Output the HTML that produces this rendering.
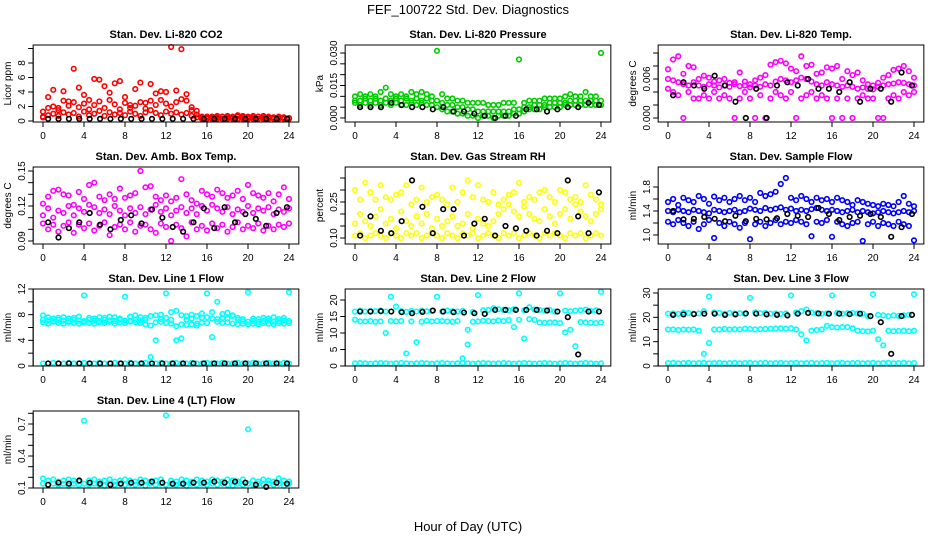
<!DOCTYPE html>
<html><head><meta charset="utf-8"><style>
body{margin:0;background:#fff}
svg{display:block;font-family:"Liberation Sans",sans-serif}
</style></head><body>
<svg id="c" width="936" height="540" viewBox="0 0 936 540">
<text x="468" y="14" text-anchor="middle" font-size="13">FEF_100722  Std. Dev. Diagnostics</text>
<text x="468" y="531" text-anchor="middle" font-size="13">Hour of Day (UTC)</text>
</svg>
<script>
const xTicks=[0,4,8,12,16,20,24];
const co2Hi=[0.6,3.3,4.3,1.8,4.1,2.7,7.2,4.6,3.6,2.9,5.8,5.7,4.8,3.9,5.2,5.5,3.3,2.2,4.4,5.3,2.5,5.1,3.8,4.1,4.0,10.2,4.2,9.9,3.7,1.9,1.4,0.6,0.6,0.6,0.7,0.6,0.7,0.6,0.8,0.7,0.6,0.7,0.6,0.7,0.6,0.5,0.6,0.5,0.4];
const co2Mid=[1.3,1.8,2.0,1.5,2.8,2.1,2.6,1.9,2.4,1.6,2.2,2.7,1.8,2.9,2.3,1.6,2.5,1.8,2.1,2.6,1.7,2.8,2.2,2.9,2.4,2.0,2.6,3.0,2.8,1.5,0.9,0.5,0.5,0.5,0.5,0.6,0.5,0.5,0.6,0.5,0.5,0.5,0.6,0.5,0.5,0.5,0.4,0.5,0.4];
const co2Lo=[0.5,0.8,1.0,0.7,1.2,0.9,1.1,0.6,1.3,0.8,1.0,1.4,0.7,1.2,0.9,1.1,0.8,1.3,1.0,0.7,1.2,1.5,1.1,0.8,1.3,1.0,1.2,0.9,1.1,0.7,0.5,0.3,0.3,0.3,0.3,0.3,0.3,0.3,0.3,0.3,0.3,0.3,0.3,0.3,0.3,0.3,0.3,0.3,0.3];
const co2Blk=[0.3,0.3,0.3,0.3,0.3,0.3,0.3,0.3,0.3,0.3,0.3,0.3,0.3,0.3,0.3,0.3,0.3,0.3,0.3,0.3,0.3,0.3,0.3,0.3];
const presHi=[0.010,0.011,0.010,0.011,0.010,0.012,0.014,0.011,0.010,0.011,0.010,0.012,0.011,0.012,0.011,0.010,0.031,0.011,0.009,0.009,0.008,0.008,0.007,0.007,0.007,0.007,0.006,0.006,0.006,0.007,0.007,0.007,0.027,0.007,0.008,0.008,0.008,0.009,0.009,0.009,0.009,0.010,0.011,0.010,0.010,0.012,0.010,0.010,0.030];
const presMid=[0.008,0.008,0.009,0.008,0.009,0.008,0.009,0.008,0.009,0.008,0.009,0.008,0.009,0.008,0.009,0.008,0.008,0.007,0.006,0.006,0.005,0.005,0.004,0.004,0.003,0.003,0.003,0.003,0.003,0.003,0.003,0.004,0.004,0.005,0.005,0.006,0.006,0.006,0.007,0.007,0.007,0.007,0.008,0.008,0.008,0.008,0.008,0.008,0.008];
const presLo=[0.007,0.006,0.007,0.006,0.007,0.006,0.007,0.006,0.007,0.006,0.006,0.007,0.006,0.007,0.006,0.006,0.005,0.004,0.003,0.003,0.002,0.002,0.001,0.001,0.000,0.001,0.001,0.000,0.001,0.001,0.001,0.002,0.002,0.003,0.004,0.004,0.004,0.005,0.005,0.005,0.005,0.006,0.006,0.006,0.006,0.006,0.006,0.006,0.006];
const presBlk=[0.005,0.005,0.005,0.007,0.006,0.005,0.005,0.004,0.005,0.003,0.003,0.002,0.001,0.0,0.001,0.001,0.004,0.004,0.003,0.004,0.005,0.005,0.007,0.006];
const tmpHi=[0.0075,0.0090,0.0095,0.0068,0.0080,0.0078,0.0060,0.0065,0.0062,0.0056,0.0058,0.0060,0.0054,0.0055,0.0070,0.0056,0.0052,0.0058,0.0062,0.0066,0.0082,0.0086,0.0088,0.0084,0.0076,0.0072,0.0095,0.0080,0.0082,0.0068,0.0070,0.0078,0.0076,0.0080,0.0060,0.0072,0.0066,0.0070,0.0058,0.0052,0.0050,0.0054,0.0062,0.0066,0.0074,0.0076,0.0080,0.0072,0.0062];
const tmpMid=[0.0060,0.0058,0.0055,0.0052,0.0050,0.0055,0.0050,0.0048,0.0052,0.0050,0.0047,0.0050,0.0048,0.0052,0.0049,0.0050,0.0047,0.0050,0.0048,0.0052,0.0050,0.0056,0.0060,0.0058,0.0055,0.0058,0.0062,0.0060,0.0056,0.0052,0.0050,0.0055,0.0052,0.0050,0.0048,0.0050,0.0048,0.0045,0.0047,0.0045,0.0044,0.0048,0.0050,0.0052,0.0053,0.0055,0.0054,0.0052,0.0050];
const tmpLo=[0.0045,0.0040,0.0035,0.0,0.0040,0.0030,0.0030,0.0035,0.0030,0.0040,0.0030,0.0035,0.0030,0.0,0.0030,0.0040,0.0030,0.0,0.0035,0.0,0.0030,0.0040,0.0035,0.0030,0.0040,0.0,0.0030,0.0035,0.0040,0.0030,0.0035,0.0030,0.0,0.0030,0.0,0.0030,0.0,0.0030,0.0035,0.0030,0.0030,0.0,0.0,0.0030,0.0035,0.0030,0.0040,0.0035,0.0040];
const tmpBlk=[0.0035,0.0055,0.0050,0.0045,0.0065,0.0050,0.0025,0.0,0.0045,0.0,0.0050,0.0055,0.0050,0.0060,0.0045,0.0045,0.0040,0.0055,0.0025,0.0045,0.0045,0.0025,0.0070,0.0050];
const ambHi=[0.122,0.128,0.133,0.134,0.130,0.129,0.121,0.132,0.126,0.138,0.140,0.128,0.125,0.130,0.126,0.135,0.127,0.129,0.131,0.150,0.136,0.137,0.128,0.125,0.129,0.124,0.127,0.143,0.130,0.125,0.122,0.133,0.130,0.128,0.134,0.131,0.127,0.129,0.133,0.126,0.138,0.131,0.129,0.127,0.131,0.124,0.130,0.136,0.126];
const ambMid=[0.112,0.118,0.110,0.116,0.114,0.120,0.112,0.118,0.115,0.121,0.119,0.114,0.117,0.113,0.120,0.116,0.112,0.118,0.114,0.119,0.113,0.117,0.121,0.115,0.118,0.112,0.116,0.119,0.114,0.118,0.113,0.120,0.116,0.121,0.118,0.115,0.119,0.113,0.117,0.115,0.120,0.114,0.118,0.116,0.119,0.113,0.117,0.115,0.118];
const ambLo=[0.105,0.100,0.104,0.098,0.103,0.106,0.097,0.104,0.101,0.105,0.099,0.103,0.106,0.095,0.102,0.104,0.100,0.106,0.098,0.103,0.104,0.100,0.097,0.105,0.102,0.090,0.104,0.101,0.094,0.106,0.100,0.103,0.099,0.105,0.101,0.104,0.098,0.102,0.106,0.100,0.103,0.101,0.105,0.099,0.103,0.100,0.104,0.102,0.105];
const ambBlk=[0.106,0.093,0.101,0.106,0.114,0.104,0.100,0.108,0.112,0.105,0.117,0.110,0.102,0.098,0.106,0.118,0.101,0.119,0.106,0.113,0.109,0.103,0.114,0.119];
const rhHi=[0.30,0.26,0.33,0.29,0.26,0.32,0.27,0.26,0.28,0.29,0.32,0.24,0.26,0.31,0.25,0.27,0.28,0.26,0.24,0.31,0.25,0.29,0.34,0.27,0.32,0.26,0.25,0.29,0.24,0.26,0.28,0.29,0.33,0.25,0.27,0.26,0.29,0.30,0.27,0.25,0.30,0.29,0.26,0.27,0.25,0.32,0.28,0.26,0.24];
const rhMid=[0.16,0.20,0.17,0.15,0.19,0.22,0.16,0.18,0.14,0.21,0.17,0.15,0.19,0.16,0.20,0.14,0.18,0.15,0.17,0.19,0.15,0.16,0.20,0.14,0.18,0.16,0.15,0.17,0.20,0.22,0.24,0.21,0.19,0.23,0.20,0.18,0.17,0.22,0.19,0.16,0.20,0.22,0.18,0.24,0.21,0.19,0.17,0.20,0.22];
const rhLo=[0.11,0.12,0.10,0.11,0.12,0.11,0.10,0.12,0.11,0.10,0.12,0.11,0.12,0.10,0.11,0.12,0.11,0.10,0.12,0.11,0.10,0.12,0.11,0.12,0.10,0.11,0.12,0.11,0.10,0.12,0.11,0.12,0.10,0.11,0.12,0.11,0.10,0.12,0.11,0.12,0.11,0.10,0.12,0.11,0.12,0.10,0.11,0.12,0.11];
const rhBlk=[0.11,0.19,0.13,0.12,0.17,0.34,0.23,0.12,0.22,0.22,0.11,0.16,0.18,0.11,0.15,0.14,0.13,0.11,0.13,0.12,0.34,0.19,0.12,0.29];
const sfHi=[1.55,1.60,1.50,1.62,1.58,1.55,1.65,1.60,1.52,1.64,1.58,1.62,1.55,1.60,1.65,1.58,1.62,1.55,1.70,1.65,1.68,1.72,1.85,1.95,1.62,1.58,1.65,1.60,1.55,1.62,1.58,1.60,1.55,1.62,1.58,1.55,1.50,1.58,1.55,1.52,1.50,1.48,1.52,1.50,1.48,1.55,1.65,1.52,1.48];
const sfMid=[1.40,1.38,1.42,1.40,1.38,1.42,1.40,1.38,1.36,1.42,1.40,1.38,1.40,1.42,1.38,1.40,1.44,1.42,1.40,1.45,1.42,1.44,1.46,1.42,1.44,1.40,1.42,1.40,1.43,1.45,1.42,1.40,1.42,1.40,1.38,1.40,1.42,1.38,1.40,1.38,1.36,1.38,1.40,1.38,1.36,1.38,1.40,1.38,1.40];
const sfLo=[1.22,1.18,1.25,1.20,1.15,1.22,1.10,1.18,1.25,0.95,1.20,1.15,1.22,1.18,1.12,1.20,0.93,1.18,1.22,1.15,1.20,1.25,1.18,1.22,1.20,1.25,1.22,1.18,0.98,1.22,1.20,1.25,0.97,1.22,1.18,1.15,1.20,1.22,0.90,1.18,1.22,1.15,1.20,1.18,1.15,1.22,1.18,1.15,0.91];
const sfBlk=[1.40,1.26,1.27,1.30,1.27,1.23,1.32,1.23,1.27,1.26,1.28,1.35,1.32,1.30,1.45,1.35,1.25,1.30,1.32,1.35,1.30,0.97,1.13,1.35];
const l1Hi=[7.9,7.6,7.4,7.5,7.6,7.4,7.5,7.7,11.0,7.5,7.4,7.6,7.5,7.7,7.6,7.4,10.8,7.7,7.9,7.6,7.5,7.8,7.9,8.0,11.3,8.4,8.6,7.9,7.8,8.0,7.8,8.2,11.3,8.4,10.0,8.1,8.3,7.9,7.5,7.3,11.5,7.4,7.3,7.5,7.4,7.6,7.3,7.5,11.5];
const l1Mid=[7.2,7.1,7.0,7.2,7.1,7.0,7.2,7.1,7.0,7.2,7.1,7.0,7.2,7.1,7.0,7.2,7.1,7.0,7.2,7.1,7.2,6.3,4.0,7.3,7.5,7.2,6.2,4.3,7.2,7.4,6.3,7.5,7.6,7.4,7.3,7.5,7.4,7.8,7.2,7.0,6.9,7.0,6.9,7.0,7.1,6.9,7.0,7.1,7.0];
const l1Lo=[6.8,6.6,6.9,6.7,6.6,6.8,6.7,6.6,6.8,6.7,6.6,6.8,6.7,6.9,6.6,6.8,6.7,6.9,6.8,6.7,6.5,1.4,6.8,6.9,6.7,6.6,4.0,6.5,6.4,6.5,6.6,6.8,6.7,4.5,6.9,6.7,6.8,6.6,6.5,6.6,6.5,6.6,6.5,6.7,6.6,6.5,6.7,6.6,6.7];
const l1Zero=[0.4,0.4,0.5,0.4,0.4,0.5,0.4,0.4,0.5,0.4,0.4,0.5,0.4,0.4,0.5,0.4,0.4,0.5,0.4,0.4,0.5,0.4,0.4,0.5,0.4,0.4,0.5,0.4,0.4,0.5,0.4,0.4,0.5,0.4,0.4,0.5,0.4,0.4,0.5,0.4,0.4,0.5,0.4,0.4,0.5,0.4,0.4,0.5,0.4];
const l1Blk=[0.4,0.4,0.4,0.4,0.4,0.4,0.4,0.4,0.4,0.4,0.4,0.4,0.4,0.4,0.4,0.4,0.4,0.4,0.4,0.4,0.4,0.4,0.4,0.4];
const l2Top=[16.5,16.8,16.5,16.7,16.6,16.8,16.5,21,18,16.6,16.4,16.7,16.5,16.8,16.6,16.7,21,16.5,16.8,16.6,16.5,16.7,11,16.4,21.5,16.9,17.0,17.5,17.2,17.0,16.9,17.2,22,16.9,17.8,17.1,17.0,16.8,17.0,16.5,22,16.8,16.6,16.8,16.9,17.1,16.7,16.9,22.5];
const l2Mid=[14,13.5,13.5,13.6,13.4,13.5,10,13.6,13.5,13.6,3.8,13.5,7.2,13.4,13.7,13.5,13.6,13.6,13.5,13.4,13.6,2.3,6.5,13.4,13.5,13.7,13.6,13.5,13.8,13.6,13.9,11.8,14.0,8.3,14.2,14.0,13.2,13.1,13.2,13.2,13.0,10.2,11,6,13.3,13.2,13.1,13.0,13.2];
const l2Zero=[0.8,0.9,0.8,0.7,0.8,0.9,0.8,0.7,0.8,0.9,0.8,0.7,0.8,0.9,0.8,0.7,0.8,0.9,0.8,0.7,0.8,0.9,0.8,0.7,0.8,0.9,0.8,0.7,0.8,0.9,0.8,0.7,0.8,0.9,0.8,0.7,0.8,0.9,0.8,0.7,0.8,0.9,0.8,0.7,0.8,0.9,0.8,0.7,0.8];
const l2Blk=[16.5,16.5,16.6,16.5,16.3,16.0,16.4,16.8,16.5,16.3,16.2,16.0,15.8,17.0,17.0,17.0,17.0,17.0,16.8,16.5,14.8,3.5,16.5,16.5];
const l3Top=[21.5,21.6,21.4,22,21.8,21.5,21.6,22.5,28.5,22.0,21.8,21.5,21.8,21.6,21.7,21.5,28.0,22.0,21.7,21.8,21.5,21.6,21.4,21.6,29.0,22,22.5,23.2,22.0,21.7,21.5,21.6,29.0,21.8,21.5,21.7,21.8,21.6,21.5,20.5,29.5,21,20.8,20.5,20.8,20.6,20.8,21,29.5];
const l3Mid=[15,15,14.8,15,14.9,15,14.5,5,9.5,15,15,15.2,15,15.1,15,15.3,15.2,15,15.1,15.2,15.3,15.4,15.5,15.3,15.5,15.0,13,10.5,14.5,14.8,15,16.5,16,15.8,16,16,15.5,14.5,14.3,14.2,14.5,11,8.5,14.5,14.3,14.4,14.5,14.3,14.5];
const l3Zero=[1.2,1.3,1.1,1.2,1.3,1.1,1.2,1.3,1.1,1.2,1.3,1.1,1.2,1.3,1.1,1.2,1.3,1.1,1.2,1.3,1.1,1.2,1.3,1.1,1.2,1.3,1.1,1.2,1.3,1.1,1.2,1.3,1.1,1.2,1.3,1.1,1.2,1.3,1.1,1.2,1.3,1.1,1.2,1.3,1.1,1.2,1.3,1.1,1.2];
const l3Blk=[21,21.2,21.3,21.5,21.5,21.0,21.2,21.6,21.5,21.2,21.0,20.8,21.5,21.8,21.6,21.5,21.5,21.3,21.5,20.5,18,5,20.5,21];
const l4Hi=[0.19,0.17,0.18,0.16,0.17,0.18,0.17,0.16,0.73,0.17,0.18,0.16,0.17,0.18,0.16,0.17,0.18,0.17,0.16,0.18,0.17,0.16,0.17,0.18,0.78,0.17,0.16,0.18,0.17,0.16,0.18,0.17,0.16,0.18,0.17,0.16,0.18,0.17,0.16,0.18,0.65,0.17,0.16,0.18,0.17,0.16,0.19,0.17,0.16];
const l4Lo=[0.14,0.13,0.14,0.13,0.14,0.12,0.14,0.13,0.14,0.13,0.14,0.13,0.12,0.14,0.13,0.14,0.13,0.14,0.13,0.14,0.12,0.14,0.13,0.14,0.13,0.14,0.13,0.14,0.12,0.14,0.13,0.14,0.13,0.14,0.13,0.14,0.13,0.12,0.14,0.13,0.14,0.13,0.14,0.13,0.14,0.13,0.14,0.12,0.14];
const l4Blk=[0.13,0.15,0.14,0.17,0.15,0.14,0.13,0.14,0.15,0.15,0.16,0.15,0.14,0.14,0.15,0.15,0.16,0.15,0.16,0.15,0.13,0.11,0.15,0.14];

const NS='http://www.w3.org/2000/svg';
const svg=document.getElementById('c');
function mk(tag,attrs,parent){const e=document.createElementNS(NS,tag);for(const k in attrs)e.setAttribute(k,attrs[k]);(parent||svg).appendChild(e);return e;}
const colX=[43,355,668], rowTop=[45,167,289,411], boxH=77, pxH=10.25;
const panels=[
 {name:'co2',title:'Stan. Dev. Li-820 CO2',ylab:'Licor ppm',c:0,r:0,col:'#ff0000',ref:[0,121,8,63],ticks:[0,2,4,6,8,10],labels:[0,2,4,6,8],fmt:0,series:[co2Lo,co2Mid,co2Hi],blk:co2Blk},
 {name:'pressure',title:'Stan. Dev. Li-820 Pressure',ylab:'kPa',c:1,r:0,col:'#00cc00',ref:[0,118,0.030,53],ticks:[0,0.005,0.01,0.015,0.02,0.025,0.03],labels:[0,0.015,0.03],fmt:3,series:[presLo,presMid,presHi],blk:presBlk},
 {name:'li820-temp',title:'Stan. Dev. Li-820 Temp.',ylab:'degrees C',c:2,r:0,col:'#ff00ff',ref:[0,118,0.006,79],ticks:[0,0.002,0.004,0.006,0.008,0.010],labels:[0,0.006],fmt:3,series:[tmpLo,tmpMid,tmpHi],blk:tmpBlk},
 {name:'amb-box-temp',title:'Stan. Dev. Amb. Box Temp.',ylab:'degrees C',c:0,r:1,col:'#ff00ff',ref:[0.09,241,0.15,171],ticks:[0.09,0.10,0.11,0.12,0.13,0.14,0.15],labels:[0.09,0.12,0.15],fmt:2,series:[ambLo,ambMid,ambHi],blk:ambBlk},
 {name:'gas-stream-rh',title:'Stan. Dev. Gas Stream RH',ylab:'percent',c:1,r:1,col:'#ffff00',ref:[0.10,238,0.25,202],ticks:[0.10,0.15,0.20,0.25,0.30,0.35],labels:[0.10,0.25],fmt:2,series:[rhLo,rhMid,rhHi],blk:rhBlk},
 {name:'sample-flow',title:'Stan. Dev. Sample Flow',ylab:'ml/min',c:2,r:1,col:'#0000ff',ref:[1.0,235,1.8,187],ticks:[1.0,1.2,1.4,1.6,1.8],labels:[1.0,1.4,1.8],fmt:1,series:[sfLo,sfMid,sfHi],blk:sfBlk},
 {name:'line1-flow',title:'Stan. Dev. Line 1 Flow',ylab:'ml/min',c:0,r:2,col:'#00ffff',ref:[0,366,12,289],ticks:[0,2,4,6,8,10,12],labels:[0,4,8,12],fmt:0,series:[l1Zero,l1Lo,l1Mid,l1Hi],blk:l1Blk},
 {name:'line2-flow',title:'Stan. Dev. Line 2 Flow',ylab:'ml/min',c:1,r:2,col:'#00ffff',ref:[0,366,20,300],ticks:[0,5,10,15,20],labels:[0,5,10,15,20],fmt:0,series:[l2Zero,l2Mid,l2Top],blk:l2Blk},
 {name:'line3-flow',title:'Stan. Dev. Line 3 Flow',ylab:'ml/min',c:2,r:2,col:'#00ffff',ref:[0,366,30,293],ticks:[0,5,10,15,20,25,30],labels:[0,10,20,30],fmt:0,series:[l3Zero,l3Mid,l3Top],blk:l3Blk},
 {name:'line4-flow',title:'Stan. Dev. Line 4 (LT) Flow',ylab:'ml/min',c:0,r:3,col:'#00ffff',ref:[0.1,488,0.7,424],ticks:[0.1,0.2,0.3,0.4,0.5,0.6,0.7,0.8],labels:[0.1,0.4,0.7],fmt:1,series:[l4Lo,l4Hi],blk:l4Blk}
];
panels.forEach(p=>{
 const x0=colX[p.c], top=rowTop[p.r], bot=top+boxH;
 const left=x0-0.96*pxH, right=x0+24.96*pxH;
 const xs=h=>x0+h*pxH;
 const [v0,py0,v1,py1]=p.ref;
 const ys=v=>py0+(v-v0)*(py1-py0)/(v1-v0);
 const g=mk('g',{});
 
 
 const t=mk('text',{x:(left+right)/2,y:top-7,'text-anchor':'middle','font-size':11,'font-weight':'bold'},g);t.textContent=p.title;
 
 
 const pts=mk('g',{fill:'none','stroke-width':1.6},g);
 
 
 p.series.forEach(s=>{s.forEach((v,i)=>{const cy=ys(v);if(cy<top-3||cy>bot+3)return;const el=mk('circle',{cx:xs(i*24/(s.length-1)),cy:cy,r:2.3,stroke:p.col},pts);
  
  });});
 p.blk.forEach((v,i)=>{const el=mk('circle',{cx:xs(0.5+i*23.3/(p.blk.length-1)),cy:ys(v),r:2.3,stroke:'#000'},pts);
  
  });
 const box=mk('rect',{x:left,y:top,width:right-left,height:boxH,fill:'none',stroke:'#000','stroke-width':1},g);
 
 
 const xa=mk('g',{stroke:'#000','stroke-width':1},g);
 
 
 mk('line',{x1:xs(0),x2:xs(24),y1:bot,y2:bot},xa);
 xTicks.forEach(h=>{mk('line',{x1:xs(h),x2:xs(h),y1:bot,y2:bot+5},xa);
  const tl=mk('text',{x:xs(h),y:bot+17,'text-anchor':'middle','font-size':10,stroke:'none',fill:'#000'},xa);tl.textContent=h;});
 const ya=mk('g',{stroke:'#000','stroke-width':1},g);
 
 
 mk('line',{x1:left,x2:left,y1:ys(p.ticks[0]),y2:ys(p.ticks[p.ticks.length-1])},ya);
 p.ticks.forEach(v=>mk('line',{x1:left-5,x2:left,y1:ys(v),y2:ys(v)},ya));
 p.labels.forEach(v=>{const yy=ys(v);const tl=mk('text',{x:0,y:0,transform:`translate(${left-8},${yy}) rotate(-90)`,'text-anchor':'middle','font-size':10,stroke:'none',fill:'#000'},ya);tl.textContent=v.toFixed(p.fmt);});
 const yl=mk('text',{transform:`translate(${left-22},${(top+bot)/2}) rotate(-90)`,'text-anchor':'middle','font-size':10},g);yl.textContent=p.ylab;
 
 
});
</script>
</body></html>
